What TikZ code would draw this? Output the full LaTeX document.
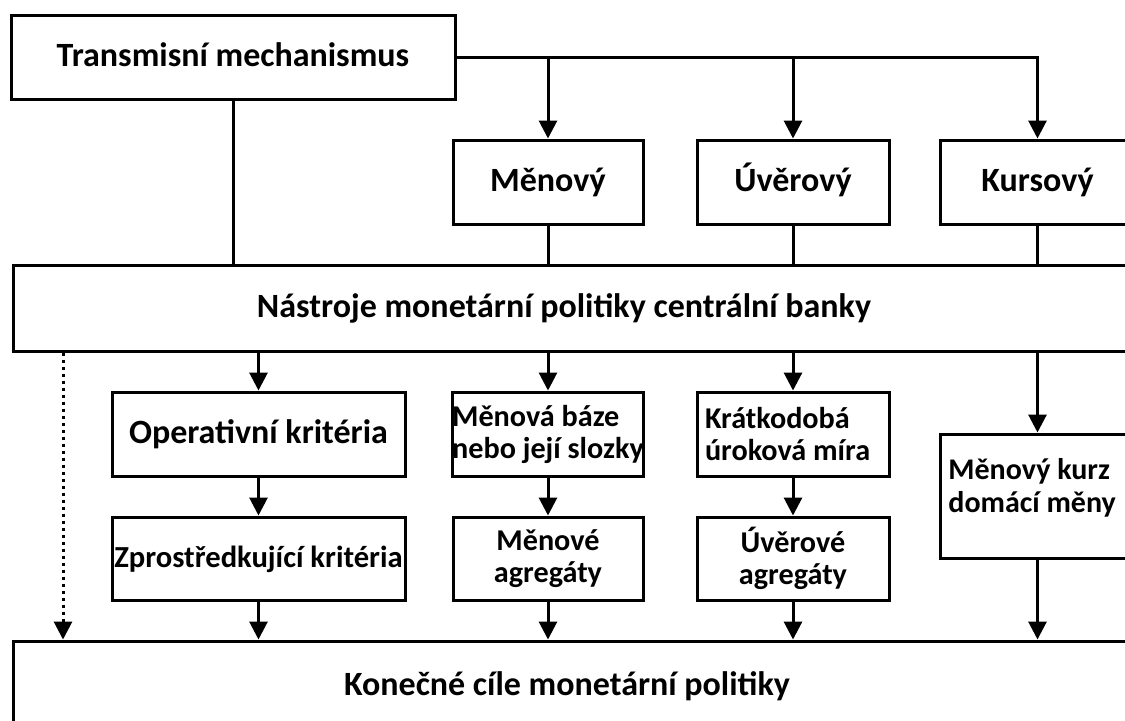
\documentclass[tikz,border=0pt]{standalone}
\usepackage{fontspec}
\setmainfont{Carlito}
\usetikzlibrary{arrows.meta,calc}

\tikzset{
  box/.style={draw, line width=1.5pt, fill=white, inner sep=0pt},
  big/.style={font=\bfseries\fontsize{17}{18}\selectfont, text height=12.5pt, text depth=3.5pt},
  small/.style={font=\bfseries\fontsize{15.1}{16}\selectfont},
  txt/.style={inner sep=0pt},
  arr/.style={line width=1.5pt, -{Triangle[width=9pt,length=9pt]}},
  ln/.style={line width=1.5pt},
}

\begin{document}
\begin{tikzpicture}[x=0.5pt, y=-0.5pt]
    \useasboundingbox (0,0) rectangle (1125,720);
    \clip (0,0) rectangle (1125,720);
    % top row
    \node[box, big, minimum width=222pt, minimum height=42pt] (trans) at (233,57) {Transmisní mechanismus};
    \node[box, big, minimum width=95pt, minimum height=42pt] (men) at (548,182) {Měnový};
    \node[box, big, minimum width=96pt, minimum height=42pt] (uver) at (793,182) {Úvěrový};
    \node[box, big, minimum width=97.5pt, minimum height=42pt] (kurs) at (1037.5,182) {Kursový};
    % instruments
    \node[box, minimum width=568.5pt, minimum height=43pt] (nast) at (581.5,308) {};
    \node[txt, big] (nasttxt) at (564,308) {Nástroje monetární politiky centrální banky};
    % criteria
    \node[box, big, minimum width=146.5pt, minimum height=42pt] (oper) at (258.5,434) {Operativní kritéria};
    \node[box, small, minimum width=95pt, minimum height=42pt, align=flush left] (baze) at (548,434) {Měnová báze\\nebo její slozky};
    \node[box, small, minimum width=96pt, minimum height=42pt, align=flush left, text width=88pt] (kratk) at (793,434) {Krátkodobá\\úroková míra};
    \node[box, big, font=\bfseries\fontsize{15.3}{18}\selectfont, minimum width=146.5pt, minimum height=41.5pt] (zpro) at (258.5,558.5) {Zprostředkující kritéria};
    \node[box, small, minimum width=95pt, minimum height=41.5pt, align=center] (agrmen) at (548,558.5) {Měnové\\agregáty};
    \node[box, small, minimum width=96pt, minimum height=41.5pt, align=center] (agruver) at (793,558.5) {Úvěrové\\agregáty};
    \node[box, minimum width=97.5pt, minimum height=62pt] (kurz) at (1037.5,496) {};
    \node[txt, small, font=\bfseries\fontsize{15}{16.5}\selectfont, align=flush left, anchor=west] (kurztxt) at (948,488) {Měnový kurz\\domácí měny};
    % goals
    \node[box, minimum width=568.5pt, minimum height=60pt] (kon) at (581.5,701) {};
    \node[txt, big] (kontxt) at (567,686) {Konečné cíle monetární politiky};
    \coordinate (dotx) at (63,0);

    % connectors
    \draw[arr] (trans.east) -| (kurs.north);
    \draw[arr] (men.north |- trans.east) -- (men.north);
    \draw[arr] (uver.north |- trans.east) -- (uver.north);
    \draw[ln] (trans.south) -- (trans.south |- nast.north);
    \draw[ln] (men.south) -- (men.south |- nast.north);
    \draw[ln] (uver.south) -- (uver.south |- nast.north);
    \draw[ln] (kurs.south) -- (kurs.south |- nast.north);
    \draw[arr] (oper.north |- nast.south) -- (oper.north);
    \draw[arr] (baze.north |- nast.south) -- (baze.north);
    \draw[arr] (kratk.north |- nast.south) -- (kratk.north);
    \draw[arr] (kurz.north |- nast.south) -- (kurz.north);
    \draw[arr] (oper) -- (zpro);
    \draw[arr] (baze) -- (agrmen);
    \draw[arr] (kratk) -- (agruver);
    \draw[arr] (zpro.south) -- (zpro.south |- kon.north);
    \draw[arr] (agrmen.south) -- (agrmen.south |- kon.north);
    \draw[arr] (agruver.south) -- (agruver.south |- kon.north);
    \draw[arr] (kurz.south) -- (kurz.south |- kon.north);
    \draw[arr, dotted] (dotx |- nast.south) -- (dotx |- kon.north);
\end{tikzpicture}
\end{document}
